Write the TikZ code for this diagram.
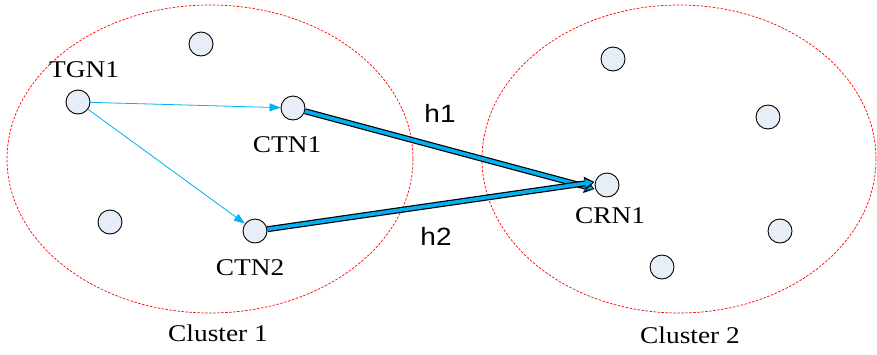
\documentclass[tikz,border=0pt]{standalone}
\usepackage{fontspec}
\setmainfont{Liberation Serif}[FakeStretch=1.14]
\newfontfamily\hopfont{Liberation Sans}[FakeStretch=1.12]
\usetikzlibrary{arrows.meta}

\definecolor{devfill}{RGB}{232,238,248}
\definecolor{linkblue}{RGB}{0,176,240}

\tikzset{
  dev/.style={circle, draw=black, line width=0.9pt, fill=devfill, minimum size=24pt, inner sep=0pt},
  cluster/.style={draw=red, line width=0.7pt, dash pattern=on 2.5pt off 1.5pt},
  link/.style={draw=linkblue, line width=0.8pt, -{Triangle[length=11pt,width=8pt]}},
  hop/.style={draw=black, line width=6pt, -{Triangle[length=10pt,width=13pt]},
    postaction={draw=linkblue, line width=3.6pt, -{Triangle[length=8pt,width=8pt]}, shorten >=1.6pt}},
  tag/.style={font=\fontsize{24}{28}\selectfont},
  hoptag/.style={font=\hopfont\fontsize{25}{29}\selectfont}
}

\begin{document}
\begin{tikzpicture}[x=1pt,y=-1pt]
  \useasboundingbox (0,0) rectangle (877,354);
  % clusters
  \draw[cluster] (210,159) ellipse [x radius=203, y radius=154];
  \draw[cluster] (679,159) ellipse [x radius=197, y radius=154];
  % devices, cluster 1
  \node[dev] (tgn1) at ( 78,102) {};
  \node[dev] (ctn1) at (293,108) {};
  \node[dev] (ctn2) at (255,231) {};
  \node[dev] (d1a)  at (201, 44) {};
  \node[dev] (d1b)  at (110,222) {};
  % devices, cluster 2
  \node[dev] (crn1) at (607,185) {};
  \node[dev] (d2a)  at (613, 59) {};
  \node[dev] (d2b)  at (768,117) {};
  \node[dev] (d2c)  at (780,231) {};
  \node[dev] (d2d)  at (662,267) {};
  % links
  \draw[link] (tgn1) -- (ctn1);
  \draw[link] (tgn1) -- (ctn2);
  \draw[hop] (ctn1) -- ([yshift=-4pt]crn1.west);
  \draw[hop] (ctn2) -- ([yshift=3pt]crn1.west);
  % labels
  \node[tag] (tgn1txt) at ( 84, 70) {TGN1};
  \node[tag] (ctn1txt) at (287,145) {CTN1};
  \node[tag] (ctn2txt) at (250,268) {CTN2};
  \node[tag] (crn1txt) at (610,216) {CRN1};
  \node[hoptag] (h1) at (440,113) {h1};
  \node[hoptag] (h2) at (436,236) {h2};
  \node[tag] (c1txt) at (218,333) {Cluster 1};
  \node[tag] (c2txt) at (690,335) {Cluster 2};
\end{tikzpicture}
\end{document}
